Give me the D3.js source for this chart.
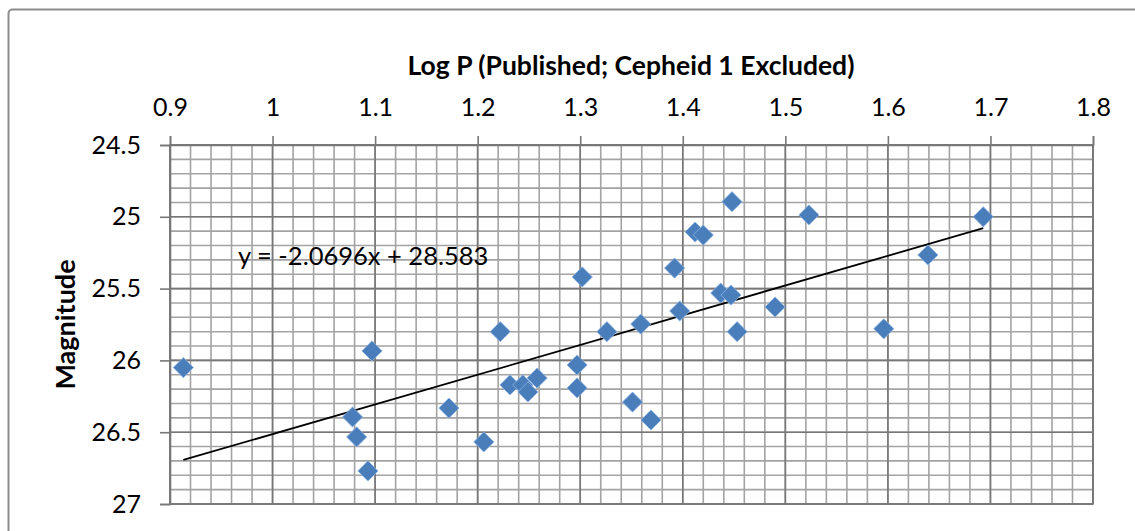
<!DOCTYPE html>
<html>
<head>
<meta charset="utf-8">
<script src="https://cdn.jsdelivr.net/npm/d3@7"></script>
<style>
  html, body { margin: 0; padding: 0; background: #fff; }
  svg { display: block; }
  text { font-family: Lato, "Open Sans", "Liberation Sans", sans-serif; fill: #000; }
</style>
</head>
<body>
<svg id="chart" width="1135" height="531"></svg>
<script>
// ---- data ----
const logP = [0.913, 1.097, 1.078, 1.082, 1.093, 1.172, 1.206, 1.2315, 1.244, 1.249, 1.258,
  1.297, 1.297, 1.351, 1.369, 1.302, 1.222, 1.326, 1.359, 1.392, 1.397, 1.412, 1.420,
  1.448, 1.437, 1.447, 1.453, 1.490, 1.523, 1.596, 1.639, 1.693];
const magnitude = [26.05, 25.934, 26.394, 26.533, 26.77, 26.332, 26.568, 26.171, 26.171, 26.22, 26.123,
  26.032, 26.192, 26.29, 26.415, 25.419, 25.80, 25.80, 25.747, 25.357, 25.656, 25.106, 25.127,
  24.895, 25.531, 25.545, 25.80, 25.628, 24.987, 25.78, 25.266, 25.0];
const xTickValues = [0.9, 1.0, 1.1, 1.2, 1.3, 1.4, 1.5, 1.6, 1.7, 1.8];
const yTickValues = [24.5, 25, 25.5, 26, 26.5, 27];
const trendSlope = -2.0696;
const trendIntercept = 28.583;
const titleText = "Log P (Published; Cepheid 1 Excluded)";
const yLabelText = "Magnitude";
const equationText = "y = -2.0696x + 28.583";

// ---- layout ----
const svg = d3.select("#chart");
const pL = 170, pR = 1093, pT = 145, pB = 504;

// outer chart border
svg.append("rect").attr("x", 8.5).attr("y", 9.5).attr("width", 1140).attr("height", 540)
  .attr("rx", 4).attr("fill", "#fff").attr("stroke", "#8c8c8c").attr("stroke-width", 2);

const x = d3.scaleLinear().domain([0.9, 1.8]).range([pL, pR]);
const y = d3.scaleLinear().domain([24.5, 27]).range([pT, pB]);

// minor gridlines
const xMinor = d3.range(0, 46).map(i => +(0.9 + i * 0.02).toFixed(2));
const yMinor = d3.range(0, 26).map(i => +(24.5 + i * 0.1).toFixed(1));
const grid = svg.append("g");
grid.selectAll("line.xm").data(xMinor).join("line")
  .attr("x1", d => x(d)).attr("x2", d => x(d)).attr("y1", pT).attr("y2", pB)
  .attr("stroke", "#a3a3a3").attr("stroke-width", 1.6);
grid.selectAll("line.ym").data(yMinor).join("line")
  .attr("x1", pL).attr("x2", pR).attr("y1", d => y(d)).attr("y2", d => y(d))
  .attr("stroke", "#a3a3a3").attr("stroke-width", 1.6);
// major gridlines
grid.selectAll("line.xM").data(xTickValues).join("line")
  .attr("x1", d => x(d)).attr("x2", d => x(d)).attr("y1", pT).attr("y2", pB)
  .attr("stroke", "#777").attr("stroke-width", 1.6);
grid.selectAll("line.yM").data(yTickValues).join("line")
  .attr("x1", pL).attr("x2", pR).attr("y1", d => y(d)).attr("y2", d => y(d))
  .attr("stroke", "#777").attr("stroke-width", 1.6);

// axes
const xAxis = d3.axisTop(x).tickValues(xTickValues).tickSize(9).tickPadding(20)
  .tickFormat(d => String(+d.toFixed(1)));
const gx = svg.append("g").attr("transform", `translate(0,${pT})`).call(xAxis);
gx.select(".domain").attr("stroke", "#777").attr("stroke-width", 1.6);
gx.selectAll(".tick line").attr("stroke", "#777").attr("stroke-width", 1.6);
gx.selectAll(".tick text").attr("font-size", 25).attr("font-family", "Lato, 'Open Sans', sans-serif").attr("fill", "#000");

const yAxis = d3.axisLeft(y).tickValues(yTickValues).tickSize(10).tickPadding(19)
  .tickFormat(d => String(d));
const gy = svg.append("g").attr("transform", `translate(${pL},0)`).call(yAxis);
gy.select(".domain").attr("stroke", "#777").attr("stroke-width", 1.6);
gy.selectAll(".tick line").attr("stroke", "#777").attr("stroke-width", 1.6);
gy.selectAll(".tick text").attr("font-size", 25).attr("font-family", "Lato, 'Open Sans', sans-serif").attr("fill", "#000");

// right & bottom border of plot
svg.append("rect").attr("x", pL).attr("y", pT).attr("width", pR - pL).attr("height", pB - pT)
  .attr("fill", "none").attr("stroke", "#777").attr("stroke-width", 1.6);

// titles
svg.append("text").attr("x", 631).attr("y", 75).attr("text-anchor", "middle")
  .attr("font-size", 26.5).attr("font-weight", "bold").text(titleText);
svg.append("text").attr("transform", `translate(75,${(pT + pB) / 2}) rotate(-90)`)
  .attr("text-anchor", "middle").attr("font-size", 27).attr("font-weight", "bold").text(yLabelText);

// trendline
const xExt = d3.extent(logP);
svg.append("line")
  .attr("x1", x(xExt[0])).attr("y1", y(trendSlope * xExt[0] + trendIntercept))
  .attr("x2", x(xExt[1])).attr("y2", y(trendSlope * xExt[1] + trendIntercept))
  .attr("stroke", "#000").attr("stroke-width", 1.8);

// points (diamonds)
const sym = d3.symbol().type(d3.symbolDiamond2).size(260);
svg.append("g").selectAll("path").data(logP.map((v, i) => [v, magnitude[i]])).join("path")
  .attr("transform", d => `translate(${x(d[0])},${y(d[1])})`)
  .attr("d", sym)
  .attr("fill", "#4a7ebb").attr("stroke", "#8fb4e3").attr("stroke-width", 0.8);

// equation label
svg.append("text").attr("x", 238).attr("y", 265).attr("font-size", 25.5).text(equationText);
</script>
</body>
</html>
